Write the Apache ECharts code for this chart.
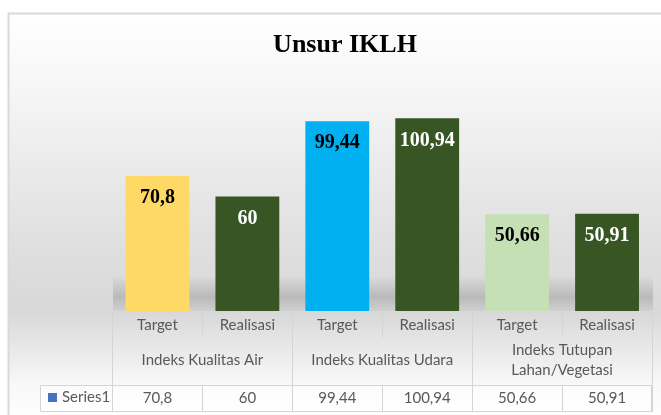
<!DOCTYPE html>
<html>
<head>
<meta charset="utf-8">
<script src="https://cdn.jsdelivr.net/npm/echarts@6/dist/echarts.min.js"></script>
<style>
  html, body { margin: 0; padding: 0; background: #fff; }
  #main { width: 661px; height: 415px; }
</style>
</head>
<body>
<div id="main"></div>
<script>
// data
var categories = ['Target', 'Realisasi', 'Target', 'Realisasi', 'Target', 'Realisasi']
var groups = ['Indeks Kualitas Air', 'Indeks Kualitas Udara', 'Indeks Tutupan\nLahan/Vegetasi']
var values = [70.8, 60, 99.44, 100.94, 50.66, 50.91]
var seriesName = 'Series1'

// styles
var barColors = ['#FFD966', '#375623', '#00B0F0', '#375623', '#C5E0B4', '#375623']
var labelColors = ['#000', '#fff', '#000', '#fff', '#000', '#fff']
var txt = '#595959'
var line = '#d4d4d4'

function fmt(v) {
  return String(v).replace('.', ',')
}

var L = 112.5, R = 9

// one axis for the bars + label rows, one for each ruled table row
function labelAxis(data, margin) {
  return {
    type: 'category', gridIndex: 0, position: 'bottom', data: data,
    axisLine: { show: false }, axisTick: { show: false },
    axisLabel: {
      interval: 0, margin: margin, verticalAlign: 'middle', lineHeight: 20,
      fontFamily: 'Lato', fontSize: 15, color: txt
    }
  }
}
function ruleAxis(grid, data) {
  return {
    type: 'category', gridIndex: grid, data: data,
    axisLine: { show: false }, axisTick: { show: false }, axisLabel: { show: false },
    splitLine: { show: true, interval: 0, lineStyle: { color: line, width: 1 } }
  }
}

var mychart = echarts.init(document.getElementById('main'))
var option = {
  animation: false,
  title: {
    text: 'Unsur IKLH',
    left: 340,
    top: 27,
    textAlign: 'center',
    textStyle: {
      fontFamily: 'Liberation Serif',
      fontWeight: 'bold',
      fontSize: 26,
      color: '#000'
    }
  },
  graphic: [
    // chart frame + backdrop
    {
      type: 'rect',
      z: -10,
      shape: { x: 8.5, y: 13.5, width: 700, height: 410 },
      style: {
        stroke: '#d9d9d9',
        lineWidth: 2,
        fill: {
          type: 'linear', x: 0, y: 0, x2: 0, y2: 1,
          colorStops: [
            { offset: 0, color: '#ffffff' },
            { offset: 0.15, color: '#f8f8f8' },
            { offset: 0.55, color: '#e0e0e0' },
            { offset: 0.727, color: '#d8d8d8' },
            { offset: 0.9, color: '#f8f8f8' },
            { offset: 1, color: '#ffffff' }
          ]
        }
      }
    },
    // floor shadow behind bars
    {
      type: 'rect',
      z: -9,
      shape: { x: 113, y: 276, width: 540, height: 35 },
      style: {
        fill: {
          type: 'linear', x: 0, y: 0, x2: 0, y2: 1,
          colorStops: [
            { offset: 0, color: 'rgba(0,0,0,0)' },
            { offset: 0.6, color: 'rgba(0,0,0,0.15)' },
            { offset: 1, color: 'rgba(0,0,0,0.04)' }
          ]
        }
      }
    },
    // data row box
    {
      type: 'rect',
      z: -8,
      shape: { x: 40.5, y: 385.5, width: 611, height: 26 },
      style: { fill: 'rgba(255,255,255,0.55)', stroke: line, lineWidth: 1 }
    }
  ],
  legend: {
    data: [seriesName],
    left: 48,
    top: 390,
    padding: 0,
    icon: 'rect',
    itemWidth: 9,
    itemHeight: 9,
    textStyle: { fontFamily: 'Lato', fontSize: 15, color: txt }
  },
  grid: [
    { left: L, right: R, top: 82, bottom: 104 },
    { left: L, right: R, top: 311, bottom: 77 },
    { left: L, right: R, top: 311, bottom: 30 },
    { left: L, right: R, top: 385, bottom: 3 }
  ],
  xAxis: [
    labelAxis(categories, 14),
    labelAxis(groups, 49.5),
    labelAxis(values.map(fmt), 87),
    ruleAxis(1, categories),
    ruleAxis(2, groups),
    ruleAxis(3, categories)
  ],
  yAxis: [
    { type: 'value', gridIndex: 0, min: 0, max: 120, show: false },
    { type: 'value', gridIndex: 1, show: false },
    { type: 'value', gridIndex: 2, show: false },
    { type: 'value', gridIndex: 3, show: false }
  ],
  series: [{
    name: seriesName,
    type: 'bar',
    xAxisIndex: 0,
    yAxisIndex: 0,
    barCategoryGap: '29%',
    color: '#4472C4',
    data: values.map(function (v, i) {
      return {
        value: v,
        itemStyle: { color: barColors[i] },
        label: { color: labelColors[i] }
      }
    }),
    label: {
      show: true,
      position: 'insideTop',
      distance: 12,
      fontFamily: 'Liberation Serif',
      fontWeight: 'bold',
      fontSize: 20,
      formatter: function (p) { return fmt(p.value) }
    }
  }]
}
mychart.setOption(option)
</script>
</body>
</html>
